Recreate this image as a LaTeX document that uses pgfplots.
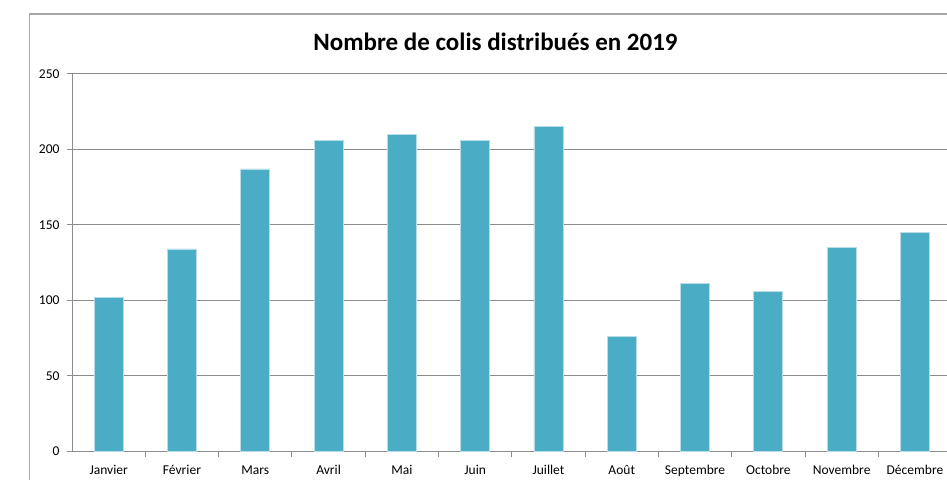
\documentclass[border=0pt]{standalone}
\usepackage{fontspec}
\setmainfont{Carlito}
\usepackage{pgfplots}
\pgfplotsset{compat=1.18}
\definecolor{barc}{HTML}{4BACC6}
\definecolor{gridc}{HTML}{8C8C8C}
\definecolor{framec}{HTML}{A6A6A6}
\begin{document}
\begin{tikzpicture}[x=1pt,y=1pt]
\useasboundingbox (0,0) rectangle (947,479);
\draw[framec, line width=1.2pt] (29.5,-2) -- (29.5,465) -- (950,465);
\node[font=\bfseries\fontsize{25}{30}\selectfont, anchor=base] at (495.5,428) {Nombre de colis distribués en 2019};
\begin{axis}[
  at={(72pt,27.5pt)}, anchor=south west, scale only axis,
  width=875pt, height=377.8pt,
  xmin=-0.5, xmax=11.437, ymin=0, ymax=250,
  ytick={0,50,...,250},
  ymajorgrids, grid style={gridc, line width=0.9pt},
  axis x line*=bottom, axis y line*=left,
  axis line style={gridc, line width=1pt},
  tick style={gridc, line width=1pt},
  tick align=outside, major tick length=5pt,
  xtick={0.5,1.5,...,10.5}, xticklabels={,,,,,,,,,,,},
  extra x ticks={0,1,...,11},
  extra x tick labels={Janvier,Février,Mars,Avril,Mai,Juin,Juillet,Août,Septembre,Octobre,Novembre,Décembre},
  extra x tick style={major tick length=0pt, grid=none, xticklabel style={yshift=-9pt, text height=10pt, text depth=3pt}},
  ticklabel style={font=\fontsize{13.5}{16}\selectfont, text=black},
  yticklabel style={xshift=-4pt},
  /pgf/number format/assume math mode=true,
  ybar, bar width=29pt,
  clip=false,
]
\addplot[fill=barc, draw=barc!40!white, line width=0.8pt] coordinates {
(0,102) (1,134) (2,187) (3,206) (4,210) (5,206) (6,215) (7,76) (8,111) (9,106) (10,135) (11,145)
};
\end{axis}
\end{tikzpicture}
\end{document}
